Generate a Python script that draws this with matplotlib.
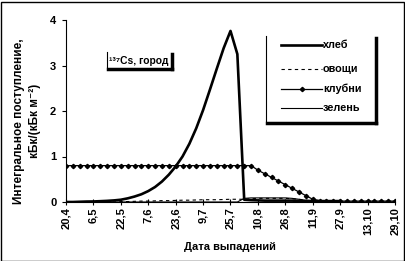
import numpy as np
import matplotlib.pyplot as plt
from matplotlib.lines import Line2D
from matplotlib.patches import Rectangle

plt.rcParams['font.family'] = ['Liberation Sans', 'DejaVu Sans']
plt.rcParams['font.weight'] = 'bold'

# categories: every 4 days from 20.4 to 29.10, labelled every 16 days
tick_labels = ["20,4", "6,5", "22,5", "7,6", "23,6", "9,7", "25,7",
               "10,8", "26,8", "11,9", "27,9", "13,10", "29,10"]
n_points = 49

bread = [0.0, 0.0, 0.005, 0.01, 0.012, 0.018, 0.025, 0.035,
         0.05, 0.08, 0.12, 0.17, 0.24, 0.33, 0.45, 0.6,
         0.78, 1.0, 1.28, 1.62, 2.02, 2.47, 2.93, 3.38,
         3.76, 3.25, 0.05, 0.04, 0.035, 0.03, 0.03, 0.03,
         0.03, 0.03, 0.025, 0.025, 0.02, 0.02, 0.02, 0.02,
         0.02] + [np.nan] * 8
vegetables = [0.0, 0.0, 0.0, 0.0, 0.0, 0.0, 0.0, 0.0,
              0.01, 0.01, 0.015, 0.02, 0.02, 0.025, 0.03, 0.03,
              0.035, 0.04, 0.04, 0.045, 0.05, 0.05, 0.05, 0.055,
              0.06, 0.06, 0.06, 0.07, 0.08, 0.08, 0.08, 0.08,
              0.08, 0.07, 0.06, 0.04, 0.02, 0.01, 0.0, 0.0,
              0.0, 0.0, 0.0, 0.0, 0.0, 0.0, 0.0, 0.0, 0.0]
tubers = [0.8] * 28 + [0.7, 0.62, 0.54, 0.46, 0.38, 0.3, 0.22, 0.14,
                       0.06, 0.03] + [0.02] * 11
greens = [0.0] * 26 + [0.08, 0.09, 0.09, 0.09, 0.09, 0.09, 0.09, 0.08,
                       0.06, 0.03, 0.0] + [0.0] * 12

x = np.arange(n_points)

fig = plt.figure(figsize=(4.06, 2.61), dpi=100)
W, H = 406, 261
ax = fig.add_axes([66 / W, (H - 202) / H, (395 - 66) / W, 182 / H])

ax.plot(x, bread, color='black', lw=1.9, label='хлеб')
ax.plot(x, vegetables, color='black', lw=0.8, ls=(0, (3, 3)), label='овощи')
ax.plot(x, tubers, color='black', lw=0.9, marker='D', ms=2.2, label='клубни')
ax.plot(x, greens, color='black', lw=0.8, label='зелень')

ax.set_xlim(0, 48)
ax.set_ylim(0, 4)
ax.set_xticks(np.arange(0, 49, 4))
ax.set_xticklabels(tick_labels, rotation=90, fontsize=8, fontweight='bold')
ax.set_yticks([0, 1, 2, 3, 4])
ax.set_yticklabels(['0', '1', '2', '3', '4'], fontsize=8, fontweight='bold')
ax.tick_params(axis='x', direction='inout', length=4, width=0.8, pad=2)
ax.tick_params(axis='y', direction='out', length=3, width=0.8, pad=4)
for side in ['top', 'right']:
    ax.spines[side].set_visible(False)
for side in ['left', 'bottom']:
    ax.spines[side].set_linewidth(0.8)

fig.text(230 / W, 1 - 247 / H, 'Дата выпадений', ha='center', va='center',
         fontsize=8, fontweight='bold')
fig.text(27 / W, 1 - 121 / H, 'Интегральное поступление,\nкБк/(кБк м⁻²)',
         ha='center', va='center', rotation=90, fontsize=8.5,
         fontweight='bold', linespacing=1.4)


def px(xp, yp):
    return xp / W, 1 - yp / H


def shadow_box(x0, y0, x1, y1):
    # thin left edge, thick shadow on right and bottom
    (a, b), (c, d) = px(x0, y0), px(x0, y1)
    fig.add_artist(Line2D([a, c], [b, d], color='black', lw=0.8))
    (a, b), (c, d) = px(x1, y0 + 2), px(x1, y1 + 2)
    fig.add_artist(Line2D([a, c], [b, d], color='black', lw=2.5))
    (a, b), (c, d) = px(x0 + 1, y1 + 2), px(x1, y1 + 2)
    fig.add_artist(Line2D([a, c], [b, d], color='black', lw=2.5))


# title box
shadow_box(107, 52, 172, 67)
fig.text(*px(109, 61), '¹³⁷Cs, город', ha='left', va='center',
         fontsize=7.4, fontweight='bold')

# legend box
shadow_box(266, 36, 376, 121)
entries = [
    ('хлеб', 45, dict(lw=1.9)),
    ('овощи', 69, dict(lw=0.8, ls=(0, (3, 3)))),
    ('клубни', 89, dict(lw=0.9)),
    ('зелень', 108, dict(lw=0.8)),
]
for name, yp, style in entries:
    (a, b), (c, d) = px(281, yp), px(322, yp)
    fig.add_artist(Line2D([a, c], [b, d], color='black', **style))
    if name == 'клубни':
        fig.add_artist(Line2D([(a + c) / 2], [b], color='black', marker='D',
                              ms=2.2, lw=0))
    fig.text(*px(323, yp), name, ha='left', va='center', fontsize=7.8,
             fontweight='bold')

# outer frame
fig.add_artist(Rectangle((0.5 / W, 0.5 / H), 1 - 2 / W, 1 - 2 / H,
                         transform=fig.transFigure, fill=False,
                         edgecolor='black', lw=1))

fig.savefig('out.png', dpi=100)
